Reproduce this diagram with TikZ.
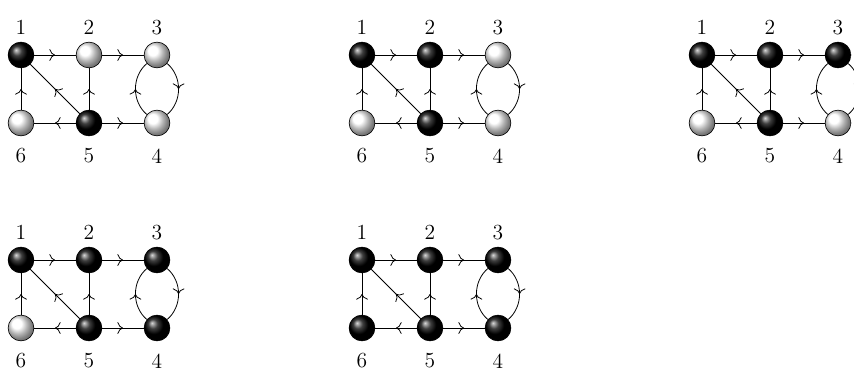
\documentclass[tikz,border=0pt]{standalone}
\usetikzlibrary{arrows.meta,decorations.markings,shadings}
\tikzset{
  ballnode/.style={circle, draw=black, line width=0.4pt, minimum size=0.57cm, inner sep=0pt, shading=ball, ball color=#1},
  midarrow/.style={line width=0.5pt, postaction={decorate}, decoration={markings, mark=at position 0.5 with {\arrow{To[scale=1.3]}}}},
  numlabel/.style={font=\fontsize{13.5}{16}\selectfont, inner sep=0pt}
}
\newcommand{\mygraph}[8]{%
  \begin{scope}[shift={#2}]
    \node[ballnode=#3] (#1-1) at (0,0) {};
    \node[ballnode=#4] (#1-2) at (68,0) {};
    \node[ballnode=#5] (#1-3) at (136,0) {};
    \node[ballnode=#6] (#1-4) at (136,68) {};
    \node[ballnode=#7] (#1-5) at (68,68) {};
    \node[ballnode=#8] (#1-6) at (0,68) {};
    \node[numlabel] (#1-l1) at (0,-27.5) {1};
    \node[numlabel] (#1-l2) at (68,-27.5) {2};
    \node[numlabel] (#1-l3) at (136,-27.5) {3};
    \node[numlabel] (#1-l6) at (0,101) {6};
    \node[numlabel] (#1-l5) at (68,101) {5};
    \node[numlabel] (#1-l4) at (136,101) {4};
    \draw[midarrow] (#1-1) -- (#1-2);
    \draw[midarrow] (#1-2) -- (#1-3);
    \draw[midarrow] (#1-6) -- (#1-1);
    \draw[midarrow] (#1-5) -- (#1-2);
    \draw[midarrow] (#1-5) -- (#1-1);
    \draw[midarrow] (#1-5) -- (#1-6);
    \draw[midarrow] (#1-5) -- (#1-4);
    \draw[midarrow] (#1-3) to[bend left=50] (#1-4);
    \draw[midarrow] (#1-4) to[bend left=50] (#1-3);
  \end{scope}}
\begin{document}
\begin{tikzpicture}[x=0.02206cm, y=-0.02206cm]
  \useasboundingbox (0,0) rectangle (854,368);
  \mygraph{a}{(21,55)}{black}{white}{white}{white}{black}{white}
  \mygraph{b}{(362,55)}{black}{black}{white}{white}{black}{white}
  \mygraph{c}{(702,55)}{black}{black}{black}{white}{black}{white}
  \mygraph{d}{(21,260)}{black}{black}{black}{black}{black}{white}
  \mygraph{e}{(362,260)}{black}{black}{black}{black}{black}{black}
\end{tikzpicture}
\end{document}
